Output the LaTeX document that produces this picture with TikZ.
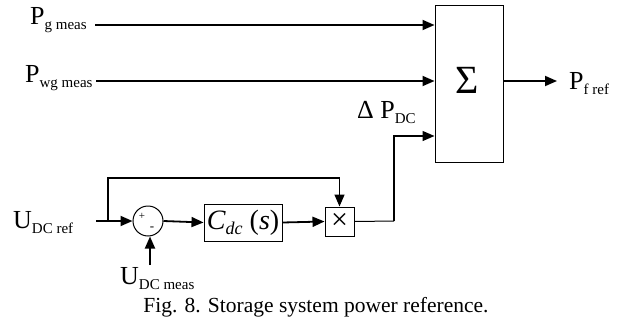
\documentclass[tikz,border=0pt]{standalone}
\usepackage{fontspec}
\setmainfont{Liberation Serif}
\usetikzlibrary{arrows.meta}
\newcommand{\lab}[2]{{\fontsize{26}{26}\selectfont #1}\raisebox{-5pt}{\fontsize{15}{15}\selectfont #2}}
\begin{document}
\begin{tikzpicture}[x=1pt,y=-1pt,
  sig/.style={line width=1.8pt,-{Triangle[length=12pt,width=10pt]}},
  thinsig/.style={line width=1.3pt,-{Triangle[length=12pt,width=10pt]}},
  blk/.style={draw,line width=1pt,inner sep=0pt},
  lbl/.style={inner sep=0pt}]
\useasboundingbox (0,0) rectangle (627,327);
% blocks
\node[blk,minimum width=68pt,minimum height=157pt] (sum) at (469,83.5) {};
\node[lbl] (sigma) at (467,80) {\fontsize{40}{40}\selectfont Σ};
\node[blk,circle,minimum size=30pt] (cmp) at (148,221) {};
\node[lbl,font=\fontsize{11}{11}\selectfont] (plus) at (142,216) {+};
\node[lbl,font=\fontsize{13}{13}\selectfont] (minus) at (152,229) {-};
\node[blk,minimum width=78pt,minimum height=37pt] (cdc) at (243,222.5) {};
\node[lbl] (cdct) at (243,222.5) {\fontsize{28}{28}\selectfont\textit{C}\raisebox{-5pt}{\fontsize{18}{18}\selectfont\textit{dc}} (\textit{s})};
\node[blk,minimum width=29pt,minimum height=29pt] (mul) at (339.5,221.5) {};
\node[lbl] (mult) at (339.5,221.5) {\fontsize{30}{30}\selectfont ×};
% labels
\node[lbl,anchor=base west] (pg) at (30,24) {\lab{P}{g meas}};
\node[lbl,anchor=base west] (pwg) at (25,82) {\lab{P}{wg meas}};
\node[lbl,anchor=base west] (udcref) at (13,228) {\lab{U}{DC ref}};
\node[lbl,anchor=base west] (udcmeas) at (120,284) {\lab{U}{DC meas}};
\node[lbl,anchor=base west] (pfref) at (569,89) {\lab{P}{f ref}};
\node[lbl,anchor=base west] (dp) at (357,118) {\lab{Δ P}{DC}};
\node[lbl,anchor=base] (cap) at (316,312) {\fontsize{21.5}{21.5}\selectfont Fig. 8. Storage system power reference.};
% coordinates
\coordinate (pgs) at (95,25);
\coordinate (pwgs) at (96,81);
\coordinate (us) at (96,221);
\coordinate (br) at (108,221);
\coordinate (ums) at (150,265);
\coordinate (dpx) at (394,221);
\coordinate (outx) at (557,81);
% connectors
\draw[sig] (pgs) -- (pgs -| sum.west);
\draw[sig] (pwgs) -- (pwgs -| sum.west);
\draw[sig] (us) -- (cmp.west);
\draw[line width=1.4pt,-{Triangle[length=12pt,width=10pt]}] (br) |- (108,178) -| (mul.north);
\draw[sig] (ums) -- (cmp.south -| ums);
\draw[sig] (cmp.east) -- (cdc.west);
\draw[sig] (cdc.east) -- (mul.west);
\draw[line width=1pt] (mul.east) -- (dpx);
\draw[thinsig] (dpx) |- (sum.west |- 0,136);
\draw[sig] (sum.east |- outx) -- (outx);
\end{tikzpicture}
\end{document}
